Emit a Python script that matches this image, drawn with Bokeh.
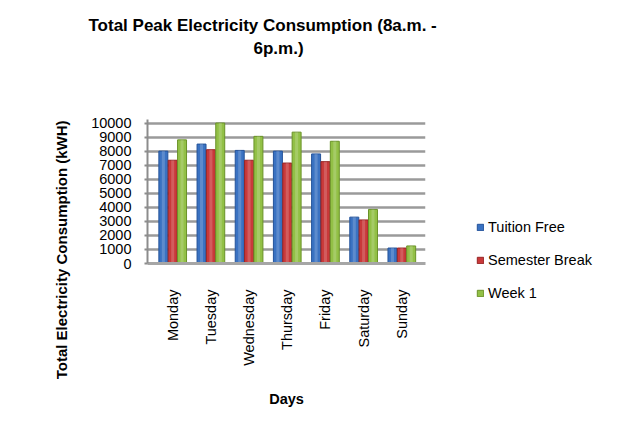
from bokeh.plotting import figure
from bokeh.models import (ColumnDataSource, Range1d, FixedTicker, Legend, LegendItem, Title)
from bokeh.embed import file_html
from bokeh.resources import INLINE
import math

days = ["Monday", "Tuesday", "Wednesday", "Thursday", "Friday", "Saturday", "Sunday"]
tuition_free = [8000, 8500, 8050, 8000, 7800, 3300, 1100]
semester_break = [7350, 8100, 7350, 7150, 7250, 3100, 1100]
week_1 = [8800, 10000, 9050, 9350, 8700, 3850, 1250]
series_names = ["Tuition Free", "Semester Break", "Week 1"]
y_ticks = [0, 1000, 2000, 3000, 4000, 5000, 6000, 7000, 8000, 9000, 10000]

colors = ["#3a72c2", "#c9393a", "#92c046"]
edge_colors = ["#24539a", "#962424", "#6a9228"]
FONT = "Liberation Sans"

idx = list(range(len(days)))
src = ColumnDataSource(dict(
    x_a=[i - 0.245 for i in idx], x_b=idx, x_c=[i + 0.245 for i in idx],
    tf=tuition_free, sb=semester_break, w1=week_1))

p = figure(frame_width=278, frame_height=144,
           min_border_left=147, min_border_right=186,
           min_border_top=119, min_border_bottom=165,
           x_range=Range1d(-0.66, 6.62), y_range=Range1d(0, 10250),
           output_backend="svg", toolbar_location=None,
           background_fill_color="white", border_fill_color="white")
p.outline_line_color = None

renderers = []
for xcol, ycol, c, ec in [("x_a", "tf", colors[0], edge_colors[0]),
                          ("x_b", "sb", colors[1], edge_colors[1]),
                          ("x_c", "w1", colors[2], edge_colors[2])]:
    r = p.vbar(x=xcol, top=ycol, width=0.235, source=src, fill_color=c,
               line_color=ec, line_width=1)
    renderers.append(r)
    p.vbar(x=xcol, top=ycol, width=0.08, source=src, fill_color="white",
           fill_alpha=0.18, line_color=None)

# axes
p.xaxis.ticker = FixedTicker(ticks=idx)
p.xaxis.major_label_overrides = {i: d for i, d in zip(idx, days)}
p.xaxis.major_label_orientation = math.pi / 2
p.xaxis.major_tick_line_color = None
p.xaxis.minor_tick_line_color = None
p.xaxis.axis_line_color = "#a6a6a6"
p.xaxis.axis_line_width = 3
p.xaxis.major_label_standoff = 20
p.xaxis.major_label_text_font = FONT
p.xaxis.major_label_text_font_size = "14.5px"
p.xaxis.major_label_text_color = "black"
p.xaxis.axis_label = "Days"
p.xaxis.axis_label_text_font = FONT
p.xaxis.axis_label_text_font_size = "14.5px"
p.xaxis.axis_label_text_font_style = "bold"
p.xaxis.axis_label_text_color = "black"
p.xaxis.axis_label_standoff = 22

p.yaxis.ticker = FixedTicker(ticks=y_ticks)
p.yaxis.minor_tick_line_color = None
p.yaxis.major_tick_in = 0
p.yaxis.major_tick_out = 3
p.yaxis.major_tick_line_color = "#8c8c8c"
p.yaxis.major_tick_line_width = 2
p.yaxis.axis_line_color = "#8c8c8c"
p.yaxis.axis_line_width = 2
p.yaxis.major_label_standoff = 13
p.yaxis.major_label_text_font = FONT
p.yaxis.major_label_text_font_size = "14.5px"
p.yaxis.major_label_text_color = "black"
p.yaxis.axis_label = "Total Electricity Consumption (kWH)" + "\u00a0" * 28
p.yaxis.axis_label_text_font = FONT
p.yaxis.axis_label_text_font_size = "15px"
p.yaxis.axis_label_text_font_style = "bold"
p.yaxis.axis_label_text_color = "black"
p.yaxis.axis_label_standoff = 18

p.xgrid.grid_line_color = None
p.ygrid.grid_line_color = "#9a9a9a"
p.ygrid.grid_line_width = 2.5

# two-line title: p.title is outermost; extra titles stack from the frame outward
p.title.text = "Total Peak Electricity Consumption (8a.m. -"
p.title.align = "left"
p.title.offset = 88 - 147
p.title.text_font = FONT
p.title.text_font_size = "17px"
p.title.text_font_style = "bold"
p.title.text_color = "black"
p.title.standoff = 2
p.add_layout(Title(text=" ", text_font_size="1px", standoff=58), "above")
p.add_layout(Title(text="6p.m.)", align="left", offset=253 - 147,
                   text_font=FONT, text_font_size="17px", text_color="black",
                   text_font_style="bold", standoff=2), "above")

legend = Legend(items=[LegendItem(label=n, renderers=[r]) for n, r in zip(series_names, renderers)],
                location=(476 - 425, -40), orientation="vertical",
                glyph_width=8, glyph_height=8, label_height=20, spacing=13,
                label_standoff=4, padding=0, margin=0,
                label_text_font=FONT, label_text_font_size="14.5px",
                label_text_color="black",
                border_line_color=None, background_fill_alpha=0)
p.add_layout(legend, "right")

open("out.html", "w").write(file_html(p, INLINE))
